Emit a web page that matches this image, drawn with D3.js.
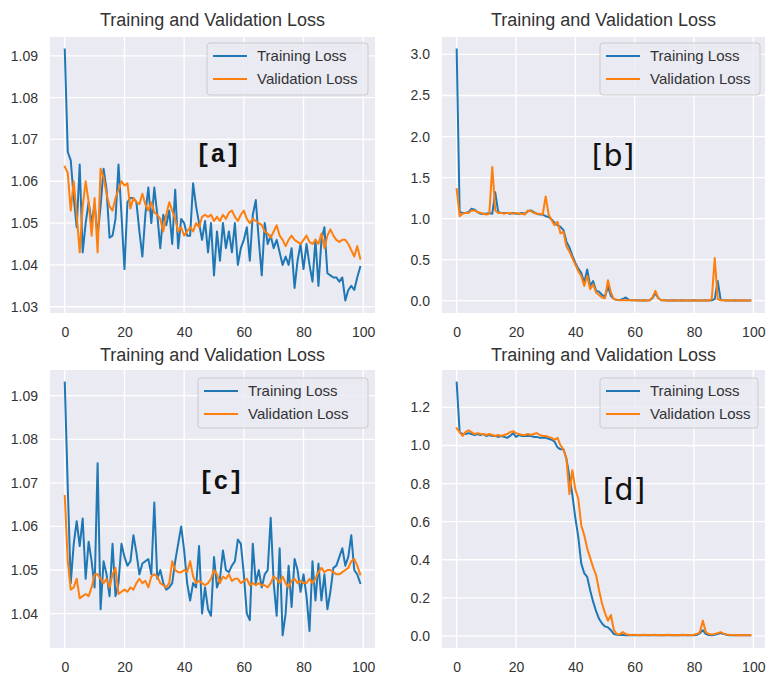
<!DOCTYPE html>
<html>
<head>
<meta charset="utf-8">
<script src="https://cdn.jsdelivr.net/npm/d3@7"></script>
<style>
  html, body { margin: 0; padding: 0; background: #ffffff; }
  svg { display: block; font-family: "Liberation Sans", Arial, Helvetica, sans-serif; }
</style>
</head>
<body>
<svg id="chart" width="768" height="675"></svg>
<script>
// ---- data -------------------------------------------------------------
const epochs = d3.range(100);
const seriesNames = ["Training Loss", "Validation Loss"];
const chartTitle = "Training and Validation Loss";
const panelTags = ["[a]", "[b]", "[c]", "[d]"];
const xTicks = [0, 20, 40, 60, 80, 100];
const yTicksA = [1.03, 1.04, 1.05, 1.06, 1.07, 1.08, 1.09];
const yTicksB = [0.0, 0.5, 1.0, 1.5, 2.0, 2.5, 3.0];
const yTicksC = [1.04, 1.05, 1.06, 1.07, 1.08, 1.09];
const yTicksD = [0.0, 0.2, 0.4, 0.6, 0.8, 1.0, 1.2];

const trainA = [
  1.0915, 1.0670, 1.0650, 1.0560, 1.0490, 1.0640, 1.0430, 1.0500, 1.0550, 1.0500,
  1.0545, 1.0470, 1.0540, 1.0630, 1.0580, 1.0465, 1.0470, 1.0510, 1.0640, 1.0520,
  1.0390, 1.0550, 1.0560, 1.0560, 1.0550, 1.0480, 1.0420, 1.0520, 1.0585, 1.0500,
  1.0585, 1.0520, 1.0440, 1.0520, 1.0495, 1.0530, 1.0450, 1.0580, 1.0440, 1.0510,
  1.0500, 1.0470, 1.0470, 1.0595, 1.0540, 1.0500, 1.0460, 1.0505, 1.0430, 1.0500,
  1.0375, 1.0480, 1.0410, 1.0500, 1.0440, 1.0480, 1.0430, 1.0500, 1.0400, 1.0440,
  1.0460, 1.0490, 1.0410, 1.0520, 1.0555, 1.0460, 1.0375, 1.0500, 1.0450, 1.0470,
  1.0440, 1.0460, 1.0430, 1.0400, 1.0420, 1.0400, 1.0440, 1.0345, 1.0410, 1.0450,
  1.0390, 1.0450, 1.0400, 1.0360, 1.0460, 1.0350, 1.0460, 1.0490, 1.0380, 1.0375,
  1.0370, 1.0370, 1.0360, 1.0370, 1.0315, 1.0340, 1.0350, 1.0340, 1.0370, 1.0395
];
const valA = [
  1.0635, 1.0620, 1.0530, 1.0600, 1.0520, 1.0430, 1.0540, 1.0600, 1.0550, 1.0470,
  1.0560, 1.0430, 1.0630, 1.0610, 1.0570, 1.0540, 1.0530, 1.0560, 1.0580, 1.0600,
  1.0590, 1.0595, 1.0535, 1.0560, 1.0550, 1.0545, 1.0570, 1.0545, 1.0530, 1.0550,
  1.0525, 1.0520, 1.0510, 1.0480, 1.0520, 1.0550, 1.0530, 1.0510, 1.0480, 1.0490,
  1.0470, 1.0480, 1.0490, 1.0480, 1.0500, 1.0490, 1.0515, 1.0520, 1.0515, 1.0520,
  1.0505, 1.0515, 1.0505, 1.0520, 1.0510, 1.0525, 1.0530, 1.0515, 1.0505, 1.0520,
  1.0530, 1.0510, 1.0500, 1.0510, 1.0505, 1.0500, 1.0495, 1.0480, 1.0475, 1.0465,
  1.0480, 1.0495, 1.0470, 1.0460, 1.0445, 1.0460, 1.0470, 1.0460, 1.0455, 1.0450,
  1.0460, 1.0470, 1.0455, 1.0450, 1.0460, 1.0450, 1.0475, 1.0440, 1.0470, 1.0485,
  1.0470, 1.0460, 1.0455, 1.0460, 1.0460, 1.0450, 1.0435, 1.0420, 1.0445, 1.0415
];

const trainB = [
  3.06, 1.08, 1.07, 1.07, 1.08, 1.12, 1.11, 1.08, 1.06, 1.06,
  1.06, 1.07, 1.06, 1.32, 1.08, 1.07, 1.07, 1.07, 1.06, 1.07,
  1.06, 1.06, 1.07, 1.06, 1.09, 1.10, 1.08, 1.06, 1.05, 1.05,
  1.03, 1.02, 0.99, 0.95, 0.92, 0.90, 0.86, 0.72, 0.65, 0.55,
  0.46, 0.39, 0.34, 0.22, 0.38, 0.18, 0.24, 0.12, 0.11, 0.07,
  0.05, 0.17, 0.06, 0.02, 0.01, 0.01, 0.02, 0.04, 0.01, 0.005,
  0.004, 0.004, 0.003, 0.004, 0.003, 0.004, 0.03, 0.09, 0.03, 0.005,
  0.004, 0.003, 0.003, 0.004, 0.003, 0.003, 0.004, 0.003, 0.003, 0.003,
  0.004, 0.003, 0.003, 0.003, 0.004, 0.003, 0.005, 0.02, 0.24, 0.01,
  0.004, 0.003, 0.003, 0.003, 0.004, 0.003, 0.003, 0.003, 0.003, 0.003
];
const valB = [
  1.36, 1.03, 1.06, 1.07, 1.07, 1.10, 1.10, 1.08, 1.07, 1.06,
  1.05, 1.06, 1.63, 1.10, 1.07, 1.07, 1.06, 1.07, 1.07, 1.06,
  1.07, 1.06, 1.06, 1.05, 1.10, 1.09, 1.07, 1.06, 1.06, 1.05,
  1.27, 1.05, 0.98, 0.92, 0.96, 0.82, 0.84, 0.66, 0.60, 0.52,
  0.44, 0.36, 0.30, 0.18, 0.30, 0.14, 0.20, 0.10, 0.07, 0.04,
  0.03, 0.25, 0.10, 0.02, 0.01, 0.006, 0.005, 0.005, 0.004, 0.004,
  0.004, 0.003, 0.003, 0.004, 0.003, 0.004, 0.04, 0.12, 0.03, 0.005,
  0.004, 0.003, 0.003, 0.003, 0.004, 0.003, 0.003, 0.003, 0.004, 0.003,
  0.003, 0.003, 0.003, 0.004, 0.003, 0.003, 0.02, 0.52, 0.02, 0.005,
  0.004, 0.003, 0.003, 0.003, 0.003, 0.003, 0.004, 0.003, 0.003, 0.003
];

const trainC = [
  1.0930, 1.0690, 1.0470, 1.0560, 1.0612, 1.0555, 1.0618, 1.0480, 1.0565, 1.0520,
  1.0460, 1.0745, 1.0410, 1.0520, 1.0490, 1.0440, 1.0560, 1.0440, 1.0470, 1.0560,
  1.0530, 1.0510, 1.0520, 1.0580, 1.0540, 1.0490, 1.0515, 1.0520, 1.0525, 1.0490,
  1.0655, 1.0480, 1.0500, 1.0470, 1.0455, 1.0460, 1.0470, 1.0520, 1.0560, 1.0600,
  1.0545, 1.0470, 1.0430, 1.0470, 1.0460, 1.0555, 1.0400, 1.0460, 1.0410, 1.0395,
  1.0530, 1.0460, 1.0480, 1.0545, 1.0500, 1.0495, 1.0510, 1.0520, 1.0570, 1.0560,
  1.0490, 1.0400, 1.0385, 1.0560, 1.0470, 1.0500, 1.0460, 1.0490, 1.0500, 1.0620,
  1.0470, 1.0395, 1.0550, 1.0350, 1.0400, 1.0510, 1.0415, 1.0525, 1.0500, 1.0450,
  1.0490, 1.0440, 1.0360, 1.0520, 1.0430, 1.0515, 1.0430, 1.0490, 1.0410, 1.0450,
  1.0505, 1.0510, 1.0530, 1.0550, 1.0510, 1.0530, 1.0580, 1.0500, 1.0490, 1.0470
];
const valC = [
  1.0670, 1.0520, 1.0455, 1.0460, 1.0480, 1.0435, 1.0440, 1.0445, 1.0440, 1.0460,
  1.0490, 1.0490, 1.0480, 1.0470, 1.0480, 1.0460, 1.0490, 1.0505, 1.0445, 1.0450,
  1.0455, 1.0450, 1.0460, 1.0455, 1.0470, 1.0480, 1.0470, 1.0475, 1.0460, 1.0485,
  1.0490, 1.0485, 1.0470, 1.0465, 1.0460, 1.0470, 1.0520, 1.0500, 1.0495, 1.0495,
  1.0500, 1.0495, 1.0520, 1.0485, 1.0470, 1.0475, 1.0470, 1.0465, 1.0470, 1.0480,
  1.0500, 1.0490, 1.0470, 1.0485, 1.0480, 1.0490, 1.0475, 1.0480, 1.0480, 1.0470,
  1.0475, 1.0480, 1.0465, 1.0470, 1.0465, 1.0470, 1.0465, 1.0465, 1.0460, 1.0470,
  1.0485, 1.0480, 1.0470, 1.0485, 1.0470, 1.0460, 1.0475, 1.0480, 1.0470, 1.0475,
  1.0470, 1.0470, 1.0480, 1.0470, 1.0480, 1.0495, 1.0505, 1.0495, 1.0500, 1.0500,
  1.0495, 1.0490, 1.0490, 1.0495, 1.0500, 1.0505, 1.0520, 1.0525, 1.0510, 1.0490
];

const trainD = [
  1.33, 1.07, 1.06, 1.06, 1.065, 1.06, 1.055, 1.06, 1.055, 1.06,
  1.05, 1.055, 1.05, 1.05, 1.045, 1.05, 1.045, 1.04, 1.05, 1.065,
  1.045, 1.055, 1.05, 1.05, 1.05, 1.05, 1.045, 1.045, 1.04, 1.04,
  1.04, 1.035, 1.03, 1.02, 0.99, 0.98, 0.98, 0.93, 0.84, 0.74,
  0.62, 0.52, 0.38, 0.33, 0.31, 0.24, 0.18, 0.13, 0.09, 0.065,
  0.05, 0.045, 0.03, 0.01, 0.006, 0.005, 0.005, 0.004, 0.004, 0.004,
  0.004, 0.003, 0.004, 0.003, 0.003, 0.004, 0.003, 0.003, 0.004, 0.003,
  0.003, 0.004, 0.003, 0.003, 0.004, 0.003, 0.003, 0.003, 0.004, 0.003,
  0.004, 0.005, 0.015, 0.03, 0.01, 0.005, 0.004, 0.006, 0.01, 0.015,
  0.01, 0.006, 0.004, 0.004, 0.003, 0.003, 0.004, 0.003, 0.003, 0.003
];
const valD = [
  1.09, 1.07, 1.05, 1.07, 1.08, 1.07, 1.06, 1.065, 1.06, 1.06,
  1.055, 1.06, 1.055, 1.05, 1.055, 1.05, 1.055, 1.06, 1.07, 1.075,
  1.065, 1.06, 1.055, 1.055, 1.06, 1.055, 1.06, 1.065, 1.055, 1.05,
  1.05, 1.045, 1.04, 1.03, 1.04, 1.00, 0.98, 0.93, 0.745, 0.87,
  0.77, 0.72, 0.58, 0.53, 0.46, 0.41, 0.36, 0.32, 0.24, 0.17,
  0.12, 0.08, 0.11, 0.03, 0.01, 0.008, 0.02, 0.01, 0.006, 0.005,
  0.006, 0.005, 0.004, 0.006, 0.005, 0.004, 0.005, 0.006, 0.004, 0.005,
  0.004, 0.006, 0.005, 0.004, 0.005, 0.004, 0.006, 0.005, 0.004, 0.005,
  0.006, 0.01, 0.02, 0.08, 0.02, 0.01, 0.008, 0.01, 0.015, 0.02,
  0.012, 0.008, 0.006, 0.005, 0.004, 0.005, 0.004, 0.004, 0.005, 0.004
];

// ---- layout -------------------------------------------------------------
const colors = ["#1f77b4", "#ff7f0e"];
const bgColor = "#eaeaf2";
const textColor = "#333333";

const panels = [
  { tag: panelTags[0], train: trainA, val: valA, yTicks: yTicksA, fmt: ".2f",
    box: { l: 50, r: 375, t: 37, b: 313 }, titleY: 26,
    legend: { x: 207, y: 43, w: 161, h: 52 },
    tagPos: { x: 218, y: 162 }, tagStyle: "mono" },
  { tag: panelTags[1], train: trainB, val: valB, yTicks: yTicksB, fmt: ".1f",
    box: { l: 442, r: 765, t: 37, b: 313 }, titleY: 26,
    legend: { x: 600, y: 43, w: 160, h: 52 },
    tagPos: { x: 613, y: 166 }, tagStyle: "sans" },
  { tag: panelTags[2], train: trainC, val: valC, yTicks: yTicksC, fmt: ".2f",
    box: { l: 50, r: 375, t: 370, b: 648 }, titleY: 361,
    legend: { x: 198, y: 378, w: 170, h: 50 },
    tagPos: { x: 221, y: 489 }, tagStyle: "mono" },
  { tag: panelTags[3], train: trainD, val: valD, yTicks: yTicksD, fmt: ".1f",
    box: { l: 442, r: 765, t: 370, b: 648 }, titleY: 361,
    legend: { x: 600, y: 378, w: 158, h: 50 },
    tagPos: { x: 624, y: 500 }, tagStyle: "sans" }
];

const svg = d3.select("#chart");

panels.forEach((p, k) => {
  const { l, r, t, b } = p.box;
  const g = svg.append("g");

  // matplotlib-style autoscale: 5% margins on both axes
  const x = d3.scaleLinear()
    .domain([-0.05 * 99, 99 + 0.05 * 99])
    .range([l, r]);
  const [lo, hi] = d3.extent(p.train.concat(p.val));
  const pad = (hi - lo) * 0.05;
  const y = d3.scaleLinear().domain([lo - pad, hi + pad]).range([b, t]);

  // axes background
  g.append("rect")
    .attr("x", l).attr("y", t)
    .attr("width", r - l).attr("height", b - t)
    .attr("fill", bgColor);

  // white grid
  g.append("g").selectAll("line")
    .data(xTicks.filter(v => x(v) >= l && x(v) <= r))
    .join("line")
    .attr("x1", d => x(d)).attr("x2", d => x(d))
    .attr("y1", t).attr("y2", b)
    .attr("stroke", "#ffffff").attr("stroke-width", 1.3);
  g.append("g").selectAll("line")
    .data(p.yTicks.filter(v => y(v) >= t && y(v) <= b))
    .join("line")
    .attr("x1", l).attr("x2", r)
    .attr("y1", d => y(d)).attr("y2", d => y(d))
    .attr("stroke", "#ffffff").attr("stroke-width", 1.3);

  // tick labels
  const ax = g.append("g")
    .attr("transform", `translate(0,${b})`)
    .call(d3.axisBottom(x).tickValues(xTicks).tickSize(0).tickPadding(14).tickFormat(d3.format("d")));
  const ay = g.append("g")
    .attr("transform", `translate(${l},0)`)
    .call(d3.axisLeft(y).tickValues(p.yTicks).tickSize(0).tickPadding(12).tickFormat(d3.format(p.fmt)));
  [ax, ay].forEach(a => {
    a.select(".domain").remove();
    a.attr("font-family", null).attr("font-size", null);
    a.selectAll("text")
      .attr("fill", textColor)
      .style("font-size", "14px")
      .style("font-family", "'Liberation Sans', Arial, sans-serif");
  });

  // loss curves
  const clipId = "clip-" + k;
  g.append("clipPath").attr("id", clipId)
    .append("rect").attr("x", l).attr("y", t).attr("width", r - l).attr("height", b - t);
  const line = d3.line().x((d, i) => x(epochs[i])).y(d => y(d));
  const plot = g.append("g").attr("clip-path", `url(#${clipId})`);
  [p.train, p.val].forEach((s, j) => {
    plot.append("path")
      .datum(s)
      .attr("d", line)
      .attr("fill", "none")
      .attr("stroke", colors[j])
      .attr("stroke-width", 2)
      .attr("stroke-linejoin", "round")
      .attr("stroke-linecap", "square");
  });

  // title
  g.append("text")
    .attr("x", (l + r) / 2).attr("y", p.titleY)
    .attr("text-anchor", "middle")
    .attr("fill", textColor)
    .style("font-size", "18px")
    .text(chartTitle);

  // legend
  const lg = g.append("g");
  lg.append("rect")
    .attr("x", p.legend.x).attr("y", p.legend.y)
    .attr("width", p.legend.w).attr("height", p.legend.h)
    .attr("rx", 3)
    .attr("fill", bgColor).attr("fill-opacity", 0.8)
    .attr("stroke", "#cccccc").attr("stroke-width", 1);
  seriesNames.forEach((name, j) => {
    const cy = p.legend.y + 13 + j * 23;
    lg.append("line")
      .attr("x1", p.legend.x + 6).attr("x2", p.legend.x + 40)
      .attr("y1", cy).attr("y2", cy)
      .attr("stroke", colors[j]).attr("stroke-width", 2);
    lg.append("text")
      .attr("x", p.legend.x + 50).attr("y", cy)
      .attr("dy", "0.36em")
      .attr("fill", textColor)
      .style("font-size", "15px")
      .text(name);
  });

  // panel tag
  const tag = g.append("text")
    .attr("x", p.tagPos.x).attr("y", p.tagPos.y)
    .attr("text-anchor", "middle")
    .attr("fill", "#111111")
    .text(p.tag);
  if (p.tagStyle === "mono") {
    tag.style("font-family", "'Liberation Mono', 'Courier New', monospace")
      .style("font-weight", "bold")
      .style("font-size", "25px");
  } else {
    tag.style("font-family", "'DejaVu Sans', 'Open Sans', sans-serif")
      .style("font-size", "30px");
  }
});
</script>
</body>
</html>
